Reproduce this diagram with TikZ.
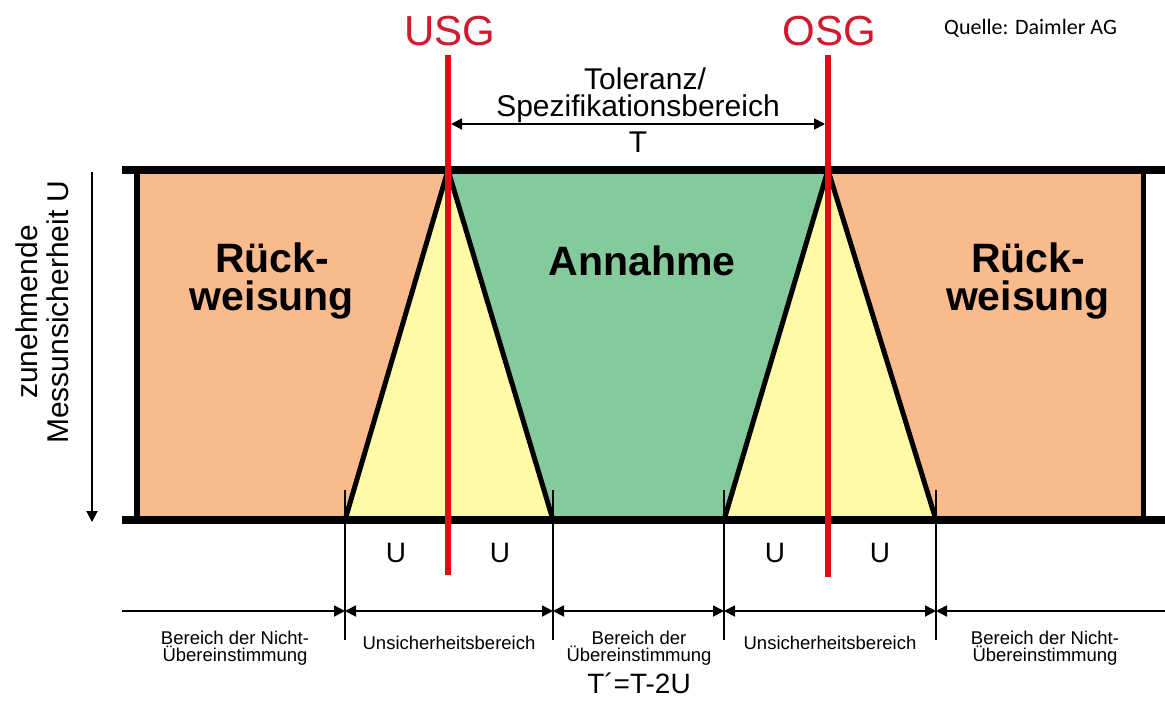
\documentclass[tikz,border=0pt]{standalone}
\usepackage{fontspec}
\setmainfont{Liberation Sans}
\newfontfamily\quellefont{Carlito}
\usetikzlibrary{arrows.meta}
\definecolor{orangefill}{RGB}{249,187,141}
\definecolor{greenfill}{RGB}{133,202,157}
\definecolor{yellowfill}{RGB}{255,250,165}
\definecolor{redline}{RGB}{225,12,20}
\definecolor{redtext}{RGB}{208,26,46}
\tikzset{
  bigbar/.style={line width=8pt},
  edgeline/.style={line width=5pt},
  redbar/.style={line width=6pt, draw=redline},
  thinline/.style={line width=1.8pt},
  dimarrow/.style={line width=1.8pt},
  tip/.tip={Triangle[length=11pt,width=11pt]},
  limlabel/.style={text=redtext, font=\fontsize{42}{42}\selectfont, anchor=base, inner sep=0pt},
  zonelabel/.style={font=\fontsize{41}{38}\selectfont\bfseries, align=center, inner sep=0pt},
  smalllabel/.style={font=\fontsize{18.5}{17}\selectfont, align=center, inner sep=0pt},
  ulabel/.style={font=\fontsize{28}{28}\selectfont, anchor=base, inner sep=0pt},
  toplabel/.style={font=\fontsize{30}{30}\selectfont, anchor=base, inner sep=0pt}
}
\begin{document}
\begin{tikzpicture}[x=1pt,y=-1pt]
\useasboundingbox (0,0) rectangle (1165,701);
% key coordinates
\coordinate (A1) at (448,170);
\coordinate (L1) at (345,520);
\coordinate (R1) at (553,520);
\coordinate (A2) at (828,170);
\coordinate (L2) at (724,520);
\coordinate (R2) at (936,520);
% fills
\fill[orangefill] (137,170) rectangle (1143,520);
\fill[yellowfill] (A1) -- (L1) -- (R1) -- cycle;
\fill[yellowfill] (A2) -- (L2) -- (R2) -- cycle;
\fill[greenfill] (A1) -- (A2) -- (L2) -- (R1) -- cycle;
% triangle edges
\draw[edgeline] (A1) -- (L1);
\draw[edgeline] (A1) -- (R1);
\draw[edgeline] (A2) -- (L2);
\draw[edgeline] (A2) -- (R2);
% frame
\coordinate (TB1) at (122,170); \coordinate (TB2) at (1165,170);
\coordinate (BB1) at (122,520); \coordinate (BB2) at (1165,520);
\draw[line width=6pt] (137,166) -- (137,520);
\draw[line width=5pt] (1143,166) -- (1143,520);
\draw[bigbar] (TB1) -- (TB2);
\draw[bigbar] (BB1) -- (BB2);
% thin verticals at the bottom
\foreach \n/\x in {a/345,b/553,c/724,d/936}{
  \coordinate (V\n t) at (\x,490);
  \coordinate (V\n b) at (\x,640);
  \draw[thinline] (V\n t) -- (V\n b);
  \coordinate (D\n) at (\x,611);
}
\coordinate (Dl) at (122,611);
\coordinate (Dr) at (1165,611);
\draw[dimarrow,-tip] (Dl) -- (Da);
\draw[dimarrow,tip-tip] (Da) -- (Db);
\draw[dimarrow,tip-tip] (Db) -- (Dc);
\draw[dimarrow,tip-tip] (Dc) -- (Dd);
\draw[dimarrow,tip-] (Dd) -- (Dr);
% red limit lines
\coordinate (U1) at (448,55); \coordinate (U2) at (448,575);
\coordinate (O1) at (828,55); \coordinate (O2) at (828,577);
\draw[redbar] (U1) -- (U2);
\draw[redbar] (O1) -- (O2);
% tolerance arrow
\coordinate (T1) at (451,124); \coordinate (T2) at (825,124);
\draw[dimarrow,tip-tip] (T1) -- (T2);
% vertical arrow
\coordinate (VA1) at (92,172); \coordinate (VA2) at (92,522);
\draw[dimarrow,-tip] (VA1) -- (VA2);
% labels
\node[limlabel] (usg) at (450,46) {USG};
\node[limlabel] (osg) at (829,46) {OSG};
\node[anchor=base west, inner sep=0pt, font=\quellefont\fontsize{22}{22}\selectfont] (quelle) at (944,35) {Quelle: Daimler AG};
\node[toplabel] (tol) at (645,89) {Toleranz/};
\node[toplabel] (spez) at (638,116) {Spezifikationsbereich};
\node[toplabel] (tt) at (638,152) {T};
\node[zonelabel] (rl) at (272,281) {Rück-\\weisung};
\node[zonelabel] (rr) at (1028,281) {Rück-\\weisung};
\node[zonelabel, anchor=base] (ann) at (642,275) {Annahme};
\node[rotate=90, align=center, inner sep=0pt, font=\fontsize{30}{31}\selectfont] (mu) at (42,312) {zunehmende\\Messunsicherheit U};
\node[ulabel] (u1) at (396,562) {U};
\node[ulabel] (u2) at (500,562) {U};
\node[ulabel] (u3) at (775,562) {U};
\node[ulabel] (u4) at (880,562) {U};
\node[smalllabel] (b1) at (235,648) {Bereich der Nicht-\\Übereinstimmung};
\node[smalllabel] (b2) at (449,643) {Unsicherheitsbereich};
\node[smalllabel] (b3) at (639,648) {Bereich der\\Übereinstimmung};
\node[smalllabel] (b4) at (830,643) {Unsicherheitsbereich};
\node[smalllabel] (b5) at (1045,648) {Bereich der Nicht-\\Übereinstimmung};
\node[font=\fontsize{28}{28}\selectfont, anchor=base, inner sep=0pt] (tp) at (639,693) {T´=T-2U};
\end{tikzpicture}
\end{document}
